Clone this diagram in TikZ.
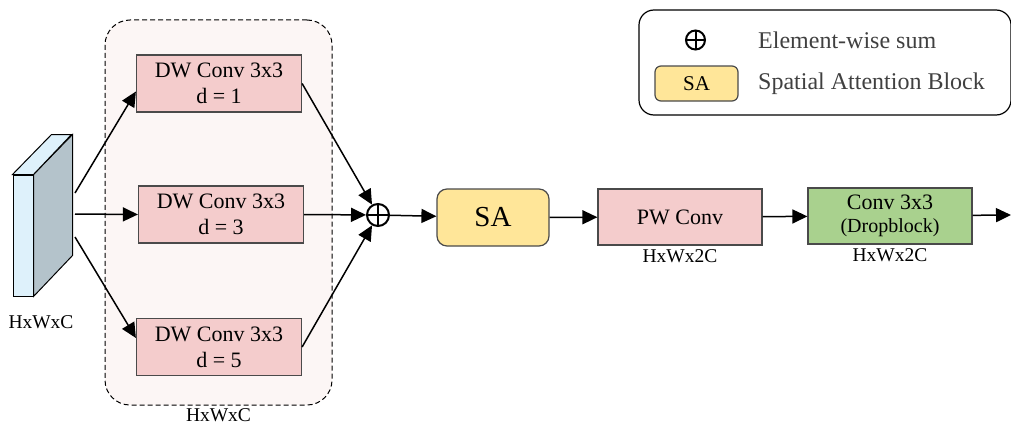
\documentclass[tikz,border=0pt]{standalone}
\usepackage{fontspec}
\setmainfont{Liberation Serif}
\usetikzlibrary{arrows.meta, positioning, calc}
\definecolor{conv_pink}{HTML}{F4CCCC}
\definecolor{group_pink}{HTML}{FCF6F5}
\definecolor{sa_yellow}{HTML}{FFE699}
\definecolor{drop_green}{HTML}{A9D18E}
\definecolor{slab_front}{HTML}{DEF1FB}
\definecolor{slab_side}{HTML}{B4C3CB}
\definecolor{box_line}{HTML}{4A4A4A}
\definecolor{legend_text}{HTML}{404040}
\tikzset{
  block_font/.style = {font=\fontsize{22}{26}\selectfont},
  dim_font/.style = {font=\fontsize{19.5}{22}\selectfont},
  legend_font/.style = {font=\fontsize{24}{28}\selectfont, text=legend_text},
  sa_font/.style = {font=\fontsize{29}{32}\selectfont}
}
\tikzset{
  block/.style = {block_font, align=center, draw=box_line, line width=1.2pt, inner sep=0,
    minimum width=165, minimum height=57},
  dw_block/.style = {block, fill=conv_pink},
  sa_block/.style = {sa_font, draw=box_line, line width=1.2pt, fill=sa_yellow, rounded corners=10,
    minimum width=112, minimum height=57},
  sum/.style = {circle, draw, line width=2pt, minimum size=22, inner sep=0,
    path picture={
      \draw[line width=2pt] (path picture bounding box.north) -- (path picture bounding box.south);
      \draw[line width=2pt] (path picture bounding box.west) -- (path picture bounding box.east);}},
  dim/.style = {dim_font, inner sep=0},
  flow/.style = {line width=1.5pt, -{Triangle[length=15pt, width=14pt]}}
}

\begin{document}
\begin{tikzpicture}[x=1pt, y=-1pt]
  \useasboundingbox (0,0) rectangle (1011,428);

  % Input feature map
  \node[draw, fill=slab_front, line width=1pt, minimum width=20, minimum height=121, inner sep=0]
    at (23,235.5) (slab) {};
  \draw[fill=slab_side, line width=1pt] (slab.north east) -- ++(39,-40) -- ++(0,121) -- (slab.south east) -- cycle;
  \draw[fill=slab_front, line width=1pt] (slab.north west) -- ++(39,-40) -- ++(20,0) -- (slab.north east) -- cycle;
  \node[dim] at (41,322) (slab_dim) {HxWxC};
  \coordinate (slab_top) at (75,193);
  \coordinate (slab_mid) at (75,214);
  \coordinate (slab_bot) at (75,237);

  % Dilated depthwise branches
  \node[draw, dashed, dash pattern=on 5pt off 3pt, line width=1pt, fill=group_pink, rounded corners=25,
    minimum width=227, minimum height=385] at (218.5,212.5) (dw_group) {};
  \node[dim, below=3pt of dw_group] (dw_dim) {HxWxC};

  \node[dw_block] at (219,83.5) (dw_1) {DW Conv 3x3 \\ d = 1};
  \node[dw_block] at (221,214.5) (dw_3) {DW Conv 3x3 \\ d = 3};
  \node[dw_block] at (219,347) (dw_5) {DW Conv 3x3 \\ d = 5};

  \node[sum] at (378,215) (add) {};

  % Main path
  \node[sa_block] at (493,217.5) (sa) {SA};
  \node[dw_block, minimum width=164, minimum height=56] at (680,217) (pw) {PW Conv};
  \node[dim, below=4pt of pw] (pw_dim) {HxWx2C};
  \node[block, fill=drop_green, minimum width=164, minimum height=56] at (890,216) (conv) {
    Conv 3x3 \\[-3pt] {\fontsize{20}{22}\selectfont (Dropblock)}};
  \node[dim, below=4pt of conv] (conv_dim) {HxWx2C};
  \coordinate (out) at (1011,215);

  % Legend
  \node[draw, line width=1.2pt, rounded corners=15, minimum width=372, minimum height=105]
    at (825,62.5) (legend) {};
  \node[sum, minimum size=19] at (695.5,40) (legend_sum) {};
  \node[sa_block, font=\fontsize{21}{24}\selectfont, rounded corners=6, minimum width=83, minimum height=35]
    at (696.5,83.5) (legend_sa) {SA};
  \node[legend_font, anchor=west, inner sep=0] at (758,40) (legend_sum_text) {Element-wise sum};
  \node[legend_font, anchor=west, inner sep=0] at (758,84) (legend_sa_text) {Spatial Attention Block};

  % Arrows
  \draw[flow] (slab_top) -- ([yshift=-8pt]dw_1.west);
  \draw[flow] (slab_mid) -- (dw_3.west);
  \draw[flow] (slab_bot) -- ([yshift=9pt]dw_5.west);
  \draw[flow] (dw_1.east) -- (add);
  \draw[flow] (dw_3.east) -- (add);
  \draw[flow] (dw_5.east) -- (add);
  \draw[flow] (add) -- (sa);
  \draw[flow] (sa) -- (pw);
  \draw[flow] (pw) -- (conv);
  \draw[flow] (conv) -- (out);
\end{tikzpicture}
\end{document}
